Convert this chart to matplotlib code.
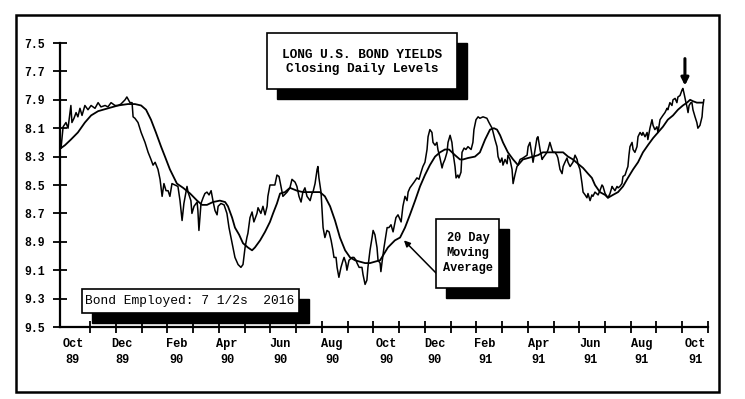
import matplotlib.pyplot as plt
from matplotlib.patches import Rectangle

# time in months since 1 Oct 1989, yields in percent
daily_t = [0.04, 0.12, 0.23, 0.31, 0.42, 0.46, 0.54, 0.62, 0.69, 0.77, 0.85, 0.96, 1.08, 1.20, 1.35,
           1.47, 1.58, 1.74, 1.85, 1.97, 2.12, 2.24, 2.35, 2.51, 2.58, 2.70, 2.78, 2.82, 2.89, 3.01,
           3.13, 3.28, 3.40, 3.51, 3.59, 3.67, 3.78, 3.86, 3.94, 4.01, 4.09, 4.17, 4.24, 4.32, 4.44,
           4.55, 4.63, 4.71, 4.78, 4.90, 4.94, 5.05, 5.09, 5.17, 5.29, 5.32, 5.36, 5.44, 5.52, 5.59,
           5.67, 5.75, 5.83, 5.90, 5.98, 6.06, 6.10, 6.21, 6.33, 6.44, 6.52, 6.64, 6.75, 6.87, 6.98,
           7.06, 7.14, 7.21, 7.25, 7.33, 7.41, 7.48, 7.60, 7.64, 7.75, 7.83, 7.91, 7.99, 8.02, 8.10,
           8.29, 8.37, 8.45, 8.56, 8.60, 8.76, 8.87, 8.95, 9.07, 9.14, 9.22, 9.30, 9.37, 9.45, 9.53,
           9.65, 9.72, 9.76, 9.84, 9.92, 9.95, 9.99, 10.07, 10.11, 10.15, 10.22, 10.30, 10.38, 10.46,
           10.53, 10.57, 10.65, 10.69, 10.76, 10.84, 10.92, 10.96, 11.03, 11.07, 11.15, 11.27, 11.34,
           11.42, 11.46, 11.54, 11.65, 11.69, 11.77, 11.84, 11.88, 11.96, 12.04, 12.08, 12.15, 12.23,
           12.27, 12.35, 12.38, 12.42, 12.50, 12.62, 12.69, 12.77, 12.85, 12.96, 13.04, 13.16, 13.23,
           13.31, 13.39, 13.43, 13.50, 13.58, 13.66, 13.77, 13.85, 13.93, 14.00, 14.08, 14.16, 14.20,
           14.27, 14.35, 14.39, 14.47, 14.54, 14.58, 14.66, 14.74, 14.78, 14.85, 14.93, 14.97, 15.05,
           15.12, 15.16, 15.24, 15.28, 15.35, 15.39, 15.47, 15.51, 15.59, 15.66, 15.74, 15.86, 15.93,
           15.97, 16.05, 16.13, 16.20, 16.32, 16.47, 16.55, 16.67, 16.71, 16.78, 16.86, 16.90, 16.98,
           17.05, 17.09, 17.17, 17.25, 17.28, 17.36, 17.44, 17.48, 17.55, 17.63, 17.67, 17.75, 17.86,
           18.02, 18.06, 18.13, 18.21, 18.25, 18.33, 18.40, 18.44, 18.52, 18.60, 18.63, 18.71, 18.79,
           18.83, 18.90, 18.98, 19.02, 19.10, 19.17, 19.21, 19.29, 19.37, 19.41, 19.48, 19.56, 19.60,
           19.68, 19.79, 19.87, 19.95, 19.98, 20.06, 20.14, 20.18, 20.26, 20.33, 20.37, 20.45, 20.52,
           20.56, 20.64, 20.76, 20.83, 20.91, 20.95, 21.03, 21.10, 21.14, 21.22, 21.30, 21.33, 21.41,
           21.49, 21.53, 21.60, 21.68, 21.72, 21.80, 21.87, 21.91, 21.95, 21.99, 22.07, 22.11, 22.18,
           22.26, 22.30, 22.38, 22.45, 22.49, 22.57, 22.65, 22.68, 22.76, 22.84, 22.88, 22.95, 23.03,
           23.07, 23.15, 23.22, 23.26, 23.34, 23.42, 23.45, 23.53, 23.61, 23.65, 23.73, 23.80, 23.84,
           23.92, 24.00, 24.03, 24.07, 24.15, 24.19, 24.23, 24.27, 24.34, 24.38, 24.42, 24.50, 24.57,
           24.61, 24.69, 24.77, 24.80, 24.84]
daily_y = [8.24, 8.09, 8.06, 8.10, 7.94, 8.06, 8.03, 7.99, 8.02, 7.96, 8.01, 7.94, 7.97, 7.94, 7.96,
           7.92, 7.95, 7.94, 7.95, 7.92, 7.94, 7.94, 7.93, 7.90, 7.88, 7.92, 7.92, 8.02, 8.03, 8.06,
           8.13, 8.20, 8.27, 8.32, 8.36, 8.34, 8.39, 8.46, 8.58, 8.49, 8.54, 8.54, 8.58, 8.49, 8.50,
           8.51, 8.61, 8.75, 8.63, 8.51, 8.55, 8.61, 8.70, 8.65, 8.62, 8.68, 8.82, 8.63, 8.59, 8.56,
           8.55, 8.57, 8.54, 8.61, 8.68, 8.71, 8.65, 8.63, 8.64, 8.70, 8.80, 8.91, 9.01, 9.06, 9.08,
           9.06, 8.94, 8.87, 8.84, 8.73, 8.69, 8.76, 8.70, 8.66, 8.70, 8.65, 8.71, 8.65, 8.58, 8.50,
           8.50, 8.43, 8.44, 8.54, 8.58, 8.55, 8.52, 8.46, 8.48, 8.51, 8.58, 8.62, 8.55, 8.52, 8.58,
           8.61, 8.56, 8.55, 8.49, 8.39, 8.37, 8.45, 8.55, 8.68, 8.80, 8.87, 8.82, 8.83, 8.89,
           8.96, 9.01, 9.01, 9.08, 9.15, 9.08, 9.03, 9.01, 9.05, 9.10, 9.03, 9.01, 9.01,
           9.03, 9.05, 9.08, 9.08, 9.13, 9.20, 9.17, 9.08, 8.96, 8.87, 8.82, 8.85, 8.94,
           9.03, 9.05, 9.11, 9.05, 8.94, 8.80, 8.80, 8.78, 8.83, 8.73, 8.71, 8.76, 8.65,
           8.58, 8.61, 8.55, 8.52, 8.50, 8.48, 8.45, 8.46, 8.41, 8.37, 8.34, 8.25, 8.16,
           8.11, 8.13, 8.20, 8.22, 8.20, 8.25, 8.31, 8.38, 8.35, 8.32, 8.27, 8.20, 8.15,
           8.20, 8.27, 8.37, 8.45, 8.43, 8.45, 8.41, 8.27, 8.24, 8.25, 8.23, 8.25, 8.20,
           8.11, 8.04, 8.02, 8.03, 8.02, 8.03, 8.06, 8.10, 8.13, 8.18, 8.23, 8.30, 8.34,
           8.31, 8.36, 8.32, 8.35, 8.29, 8.32, 8.39, 8.49, 8.43, 8.37, 8.36, 8.32, 8.31,
           8.29, 8.23, 8.20, 8.29, 8.34, 8.25, 8.17, 8.16, 8.25, 8.32, 8.31, 8.29, 8.27,
           8.25, 8.20, 8.25, 8.27, 8.27, 8.29, 8.31, 8.39, 8.42, 8.37, 8.34, 8.31, 8.34,
           8.37, 8.34, 8.29, 8.32, 8.35, 8.39, 8.49, 8.55, 8.57, 8.59, 8.56, 8.61, 8.57,
           8.58, 8.55, 8.57, 8.54, 8.50, 8.51, 8.56, 8.58, 8.59, 8.56, 8.51, 8.52, 8.54,
           8.51, 8.52, 8.51, 8.49, 8.44, 8.43, 8.39, 8.37, 8.29, 8.23, 8.20, 8.25, 8.27,
           8.23, 8.16, 8.13, 8.15, 8.13, 8.16, 8.13, 8.18, 8.10, 8.04, 8.08, 8.11, 8.09,
           8.13, 8.04, 8.02, 8.01, 7.99, 7.96, 7.97, 7.92, 7.94, 7.90, 7.89, 7.92, 7.88,
           7.87, 7.83, 7.82, 7.85, 7.92, 7.95, 7.99, 7.94, 7.92, 7.92, 7.97, 8.02, 8.06,
           8.10, 8.08, 8.02, 7.95, 7.90]

ma_t = [0.04, 0.19, 0.42, 0.69, 0.96, 1.20, 1.47, 1.85, 2.24, 2.62, 2.89, 3.13, 3.32, 3.51, 3.70,
        3.90, 4.05, 4.24, 4.51, 4.75, 5.02, 5.29, 5.48, 5.67, 5.90, 6.17, 6.37, 6.48, 6.64, 6.75,
        6.91, 7.06, 7.25, 7.41, 7.52, 7.72, 7.91, 8.10, 8.22, 8.37, 8.49, 8.68, 8.87, 9.14, 9.37,
        9.76, 10.03, 10.22, 10.42, 10.61, 10.80, 11.00, 11.19, 11.38, 11.57, 11.77, 11.96, 12.15,
        12.35, 12.65, 12.92, 13.12, 13.31, 13.50, 13.70, 13.89, 14.08, 14.27, 14.47, 14.66, 14.85,
        15.01, 15.24, 15.43, 15.55, 15.74, 16.01, 16.20, 16.40, 16.59, 16.74, 16.86, 16.98, 17.09,
        17.28, 17.48, 17.67, 17.86, 18.06, 18.25, 18.44, 18.63, 18.90, 19.17, 19.41, 19.60, 19.79,
        19.98, 20.18, 20.37, 20.52, 20.64, 20.83, 21.03, 21.14, 21.33, 21.53, 21.72, 21.91, 22.11,
        22.30, 22.49, 22.68, 22.88, 23.07, 23.26, 23.45, 23.65, 23.84, 24.03, 24.19, 24.31, 24.42,
        24.57, 24.69, 24.80]
ma_y = [8.24, 8.22, 8.18, 8.13, 8.06, 8.01, 7.98, 7.96, 7.94, 7.93, 7.93, 7.94, 7.97, 8.04, 8.13,
        8.23, 8.30, 8.39, 8.49, 8.52, 8.56, 8.61, 8.64, 8.64, 8.62, 8.61, 8.62, 8.65, 8.73, 8.80,
        8.85, 8.91, 8.94, 8.96, 8.94, 8.89, 8.83, 8.76, 8.70, 8.63, 8.56, 8.55, 8.52, 8.54, 8.55,
        8.55, 8.55, 8.58, 8.65, 8.75, 8.87, 8.96, 9.01, 9.03, 9.04, 9.05, 9.05, 9.04,
        9.03, 8.94, 8.89, 8.87, 8.80, 8.71, 8.61, 8.51, 8.43, 8.36, 8.30, 8.27, 8.25,
        8.25, 8.29, 8.32, 8.32, 8.31, 8.30, 8.27, 8.18, 8.11, 8.10, 8.11, 8.15, 8.20,
        8.27, 8.32, 8.36, 8.32, 8.31, 8.30, 8.29, 8.27, 8.27, 8.27, 8.27, 8.30, 8.32,
        8.35, 8.38, 8.42, 8.45, 8.50, 8.55, 8.57, 8.59, 8.57, 8.55, 8.51, 8.45, 8.39,
        8.34, 8.27, 8.22, 8.17, 8.13, 8.09, 8.04, 8.01, 7.97, 7.94, 7.92, 7.90, 7.91,
        7.92, 7.92, 7.92]

yticks = [7.5, 7.7, 7.9, 8.1, 8.3, 8.5, 8.7, 8.9, 9.1, 9.3, 9.5]
month_labels = ['Oct\n89', 'Dec\n89', 'Feb\n90', 'Apr\n90', 'Jun\n90', 'Aug\n90', 'Oct\n90',
                'Dec\n90', 'Feb\n91', 'Apr\n91', 'Jun\n91', 'Aug\n91', 'Oct\n91']
label_pos = [0.5, 2.4, 4.5, 6.45, 8.5, 10.5, 12.6, 14.45, 16.4, 18.45, 20.45, 22.45, 24.5]

W, H = 745, 399
mono = 'Liberation Mono'


def fx(px):
    return px / W


def fy(py):
    return 1 - py / H


def shadow_box(fig, x0, y0, x1, y1, off=10):
    # black drop shadow first, white box on top
    fig.add_artist(Rectangle((fx(x0 + off), fy(y1 + off)), fx(x1 - x0), (y1 - y0) / H,
                             transform=fig.transFigure, facecolor='black', edgecolor='black', zorder=5))
    fig.add_artist(Rectangle((fx(x0), fy(y1)), fx(x1 - x0), (y1 - y0) / H,
                             transform=fig.transFigure, facecolor='white', edgecolor='black',
                             linewidth=1.2, zorder=6))


fig = plt.figure(figsize=(7.45, 3.99), dpi=100)
fig.patch.set_facecolor('white')
ax = fig.add_axes([fx(60), fy(327), fx(708 - 60), (327 - 43) / H])

ax.plot(daily_t, daily_y, color='black', linewidth=1.1)
ax.plot(ma_t, ma_y, color='black', linewidth=1.3)

ax.set_xlim(0, 25)
ax.set_ylim(9.5, 7.5)
for s in ['top', 'right']:
    ax.spines[s].set_visible(False)
for s in ['left', 'bottom']:
    ax.spines[s].set_linewidth(1.6)

ax.set_yticks(yticks)
ax.set_yticklabels(['%.1f' % v for v in yticks], fontfamily=mono, fontweight='bold', fontsize=8.3)
ax.tick_params(axis='y', direction='inout', length=10, width=1.3, pad=6)

month_ticks = [1.16 + 0.9933 * k for k in range(25)]
ax.set_xticks(month_ticks, minor=True)
ax.set_xticks(label_pos)
ax.set_xticklabels(month_labels, fontfamily=mono, fontweight='bold', fontsize=8.6, linespacing=1.45)
ax.tick_params(axis='x', which='major', length=0, pad=8)
ax.tick_params(axis='x', which='minor', direction='inout', length=8, width=1.3)

# outer frame
fig.add_artist(Rectangle((fx(16), fy(392)), fx(719 - 16), (392 - 15) / H, transform=fig.transFigure,
                         fill=False, edgecolor='black', linewidth=1.8))

# title box
shadow_box(fig, 267, 33, 457, 89)
fig.text(fx(362), fy(55), 'LONG U.S. BOND YIELDS', ha='center', va='center', fontfamily=mono,
         fontweight='bold', fontsize=9.2, zorder=7)
fig.text(fx(362), fy(69), 'Closing Daily Levels', ha='center', va='center', fontfamily=mono,
         fontweight='bold', fontsize=9.2, zorder=7)

# bond box
shadow_box(fig, 82, 289, 299, 313, off=10)
fig.text(fx(190), fy(301), 'Bond Employed: 7 1/2s  2016', ha='center', va='center', fontfamily=mono,
         fontsize=9.3, zorder=7)

# moving average label box
shadow_box(fig, 436, 219, 499, 288, off=10)
fig.text(fx(468), fy(253), '20 Day\nMoving\nAverage', ha='center', va='center', fontfamily=mono,
         fontweight='bold', fontsize=8.6, linespacing=1.3, zorder=7)
ax.annotate('', xy=(13.27, 8.89), xytext=(fx(437), fy(274)), textcoords='figure fraction',
            arrowprops=dict(arrowstyle='-|>', color='black', lw=1.1, mutation_scale=9,
                            shrinkA=0, shrinkB=0), zorder=8)

# arrow marking the top
ax.annotate('', xy=(24.11, 7.80), xytext=(24.11, 7.61),
            arrowprops=dict(arrowstyle='-|>', color='black', lw=2.2, mutation_scale=11,
                            shrinkA=0, shrinkB=0))

fig.savefig('out.png', dpi=100, facecolor='white')
